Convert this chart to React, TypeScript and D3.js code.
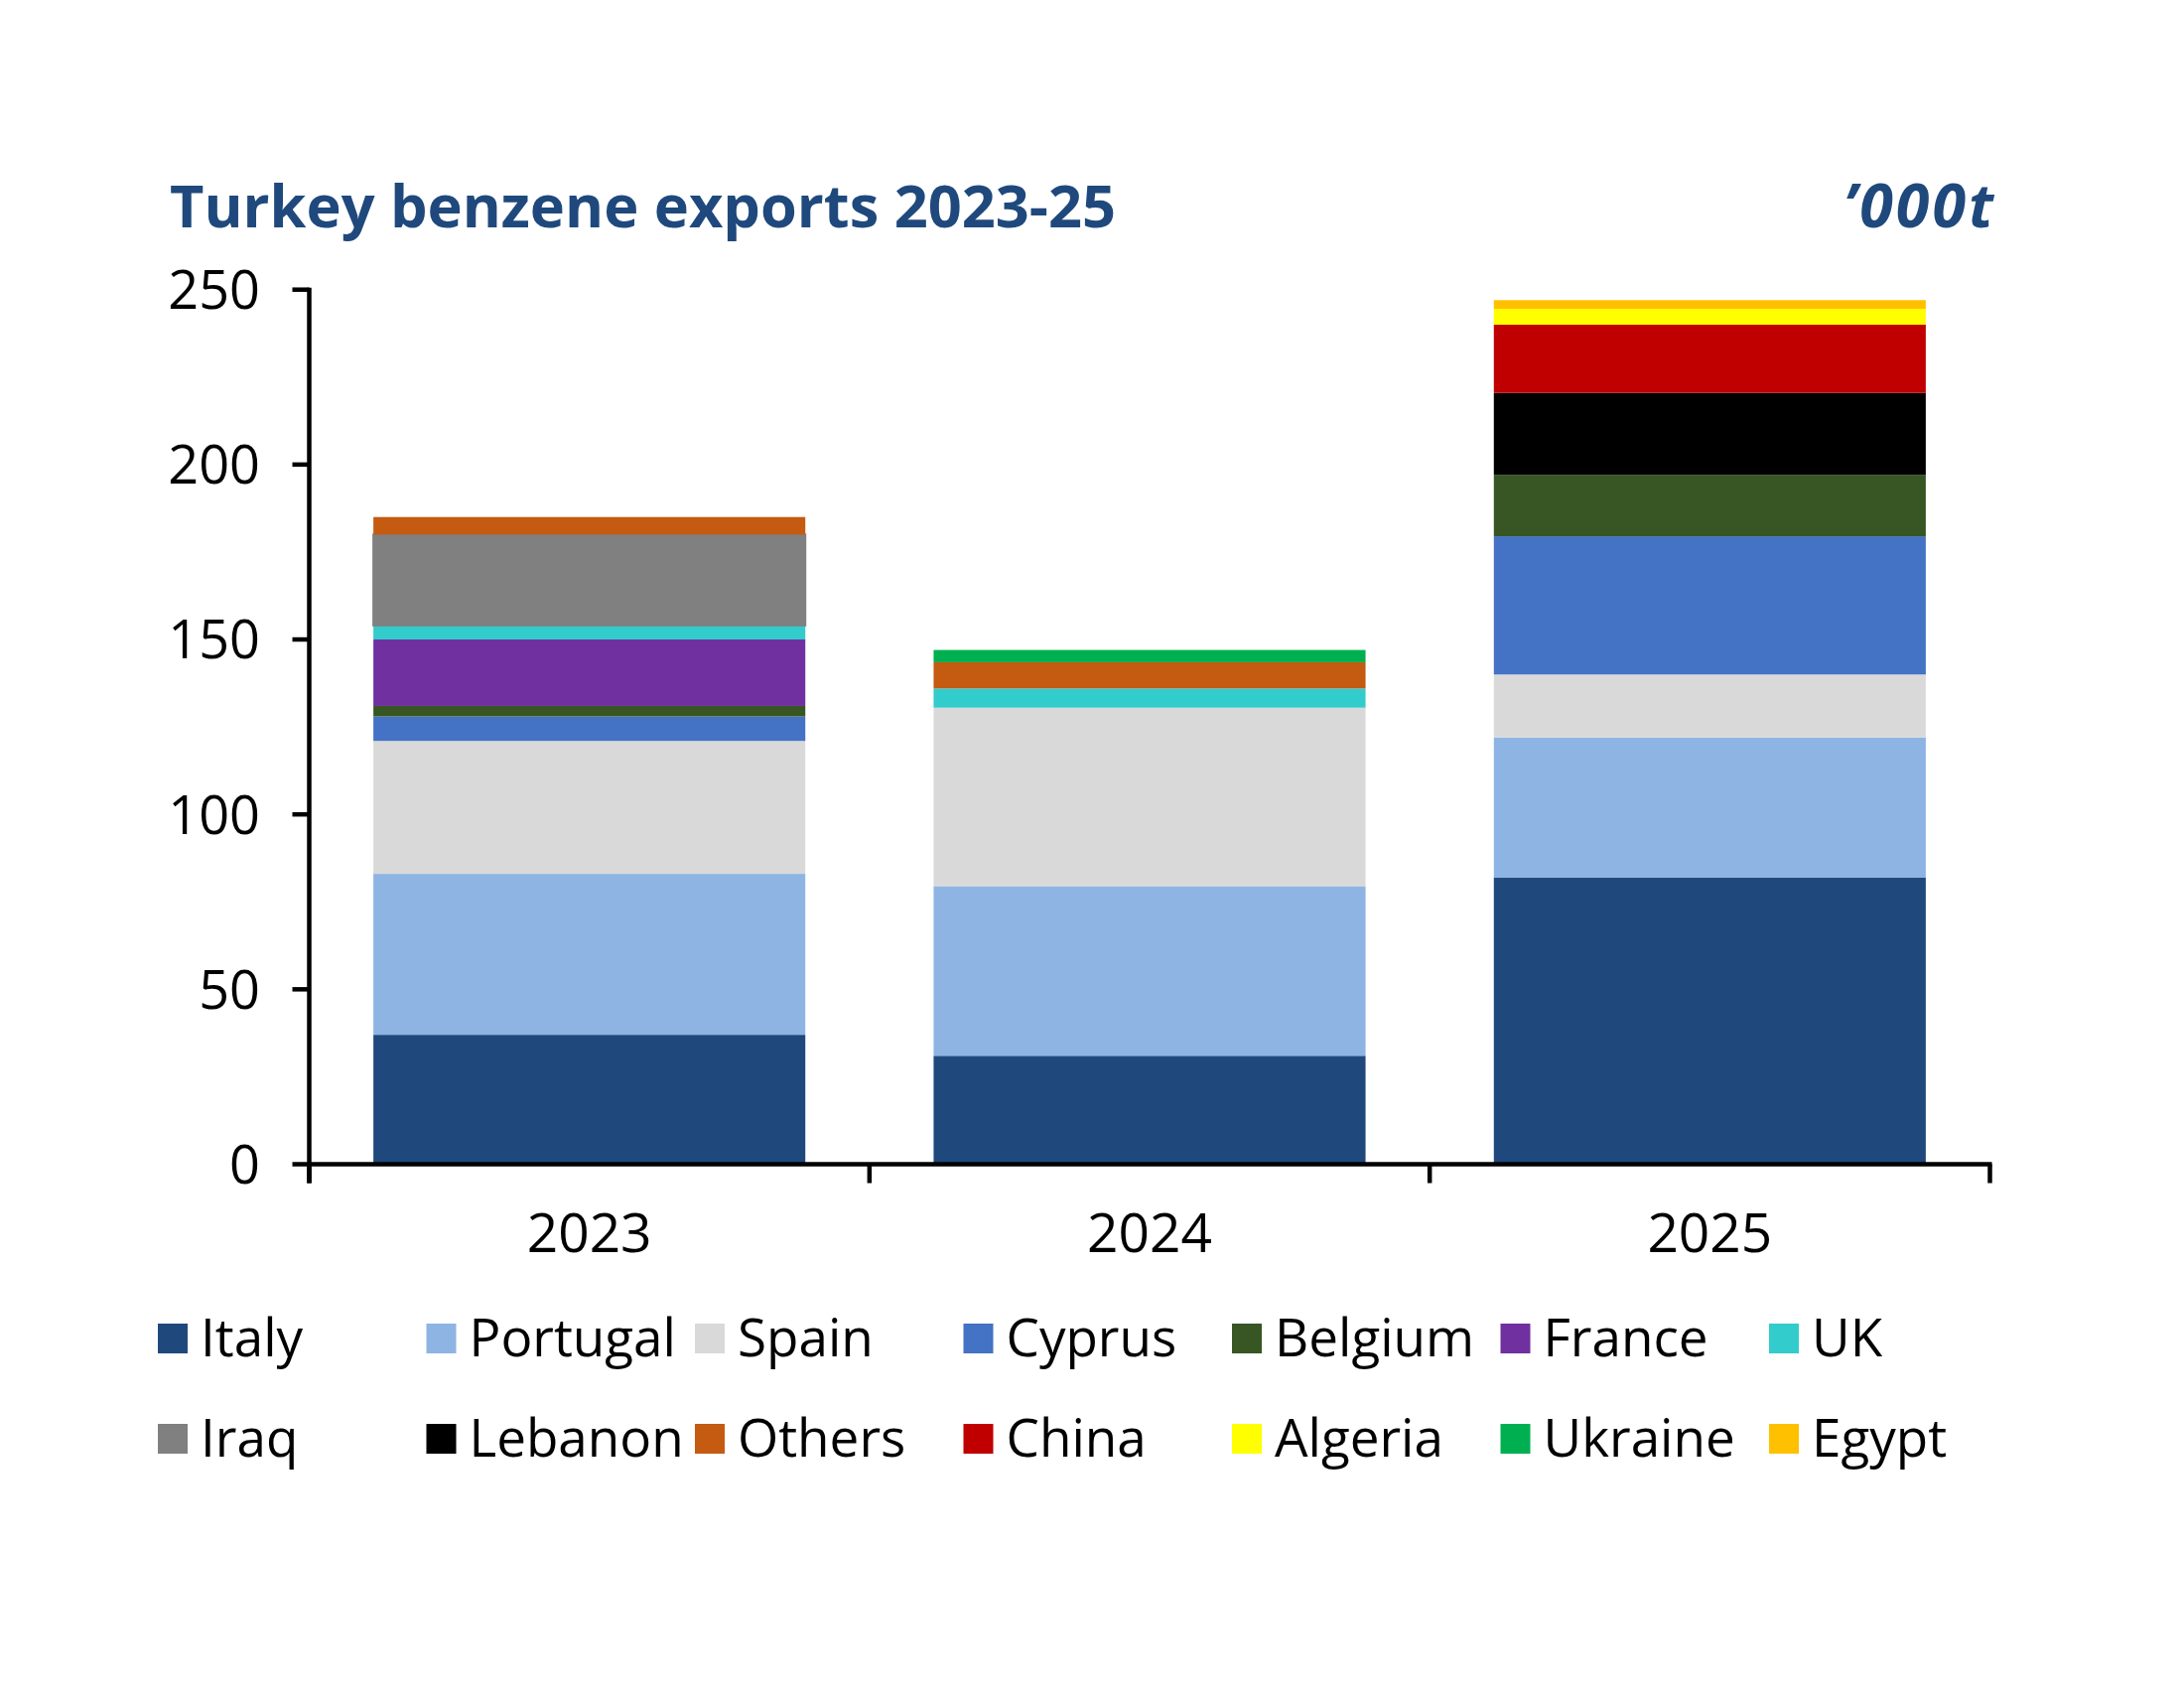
import React from 'react';
import * as d3 from 'd3';

const years = ['2023', '2024', '2025'];
const countries = ['Italy', 'Portugal', 'Spain', 'Cyprus', 'Belgium', 'France', 'UK', 'Iraq', 'Lebanon', 'Others', 'China', 'Algeria', 'Ukraine', 'Egypt'];
const countryColors = ['#1F497D', '#8EB4E3', '#D9D9D9', '#4472C4', '#375623', '#7030A0', '#33CCCC', '#808080', '#000000', '#C55A11', '#C00000', '#FFFF00', '#00B050', '#FFC000'];

// '000t per year: 2023, 2024, 2025
const italy = [37, 31, 82];
const portugal = [46, 48.5, 40];
const spain = [38, 51, 18];
const cyprus = [7, 0, 39.5];
const belgium = [3, 0, 17.5];
const france = [19, 0, 0];
const uk = [4, 5.5, 0];
const iraq = [26, 0, 0];
const lebanon = [0, 0, 23.5];
const others = [5, 7.5, 0];
const china = [0, 0, 19.5];
const algeria = [0, 0, 4.5];
const ukraine = [0, 3.5, 0];
const egypt = [0, 0, 2.5];

const seriesValues = [italy, portugal, spain, cyprus, belgium, france, uk, iraq, lebanon, others, china, algeria, ukraine, egypt];
const yTicks = [0, 50, 100, 150, 200, 250];

const title = 'Turkey benzene exports 2023-25';
const unitLabel = '\u2019000t';

const W = 2200;
const H = 1700;
const FONT = "'Open Sans', 'Noto Sans', sans-serif";

export default function App() {
  const rows = years.map((y, i) => {
    const r: Record<string, number | string> = { year: y };
    countries.forEach((c, k) => { r[c] = seriesValues[k][i]; });
    return r;
  });
  const stacked = d3.stack<any>().keys(countries)(rows as any);

  const x = d3.scaleBand<string>().domain(years).range([311.5, 2004.5]).paddingInner(0.229).paddingOuter(0.1145);
  const y = d3.scaleLinear().domain([0, 250]).range([1172.5, 291.7]);
  const color = d3.scaleOrdinal<string, string>().domain(countries).range(countryColors);

  const x0 = 311.5;
  const x1 = 2004.5;
  const catTicks = d3.range(years.length + 1).map((i) => x0 + i * (x1 - x0) / years.length);

  const legendCols = 7;
  const legendX0 = 159;
  const legendDX = 270.5;
  const legendY0 = 1333;
  const legendDY = 101;

  return (
    <svg width={W} height={H} style={{ position: 'absolute', left: 0, top: 0, display: 'block', background: '#fff' }}>
      <rect x={0} y={0} width={W} height={H} fill="#fff" />
      <text x={171} y={229} fontFamily={FONT} fontWeight={700} fontSize={59.5} fill="#1F497D">{title}</text>
      <text x={2011} y={229} textAnchor="end" fontFamily={FONT} fontWeight={700} fontStyle="italic" fontSize={61} letterSpacing={3} fill="#1F497D">{unitLabel}</text>

      {stacked.map((s) => (
        <g key={s.key}>
          {s.map((d, i) => {
            const h = y(d[0]) - y(d[1]);
            if (h <= 0) return null;
            return (
              <rect
                key={i}
                x={x(years[i])}
                y={y(d[1])}
                width={x.bandwidth()}
                height={h}
                fill={color(s.key)}
                stroke={s.key === 'Iraq' ? '#808080' : 'none'}
                strokeWidth={s.key === 'Iraq' ? 2 : 0}
              />
            );
          })}
        </g>
      ))}

      {/* Y axis */}
      <line x1={x0} x2={x0} y1={y(250) - 2} y2={y(0) + 19} stroke="#000" strokeWidth={4.5} />
      {yTicks.map((t) => (
        <g key={t}>
          <line x1={x0 - 17} x2={x0} y1={y(t)} y2={y(t)} stroke="#000" strokeWidth={4.5} />
          <text x={262} y={y(t)} dy="0.36em" textAnchor="end" fontFamily={FONT} fontSize={54} fill="#000">{t}</text>
        </g>
      ))}

      {/* X axis */}
      <line x1={x0 - 2} x2={x1 + 2} y1={y(0)} y2={y(0)} stroke="#000" strokeWidth={4.5} />
      {catTicks.map((cx, i) => (
        <line key={i} x1={cx} x2={cx} y1={y(0)} y2={y(0) + 19} stroke="#000" strokeWidth={4.5} />
      ))}
      {years.map((yr) => (
        <text key={yr} x={(x(yr) as number) + x.bandwidth() / 2} y={1261} textAnchor="middle" fontFamily={FONT} fontSize={55} fill="#000">{yr}</text>
      ))}

      {/* Legend */}
      {countries.map((c, k) => {
        const col = k % legendCols;
        const row = Math.floor(k / legendCols);
        const lx = legendX0 + col * legendDX;
        const ly = legendY0 + row * legendDY;
        return (
          <g key={c}>
            <rect x={lx} y={ly} width={30} height={30} fill={color(c)} />
            <text x={lx + 43} y={ly + 33} fontFamily={FONT} fontSize={53} fill="#000">{c}</text>
          </g>
        );
      })}
    </svg>
  );
}
